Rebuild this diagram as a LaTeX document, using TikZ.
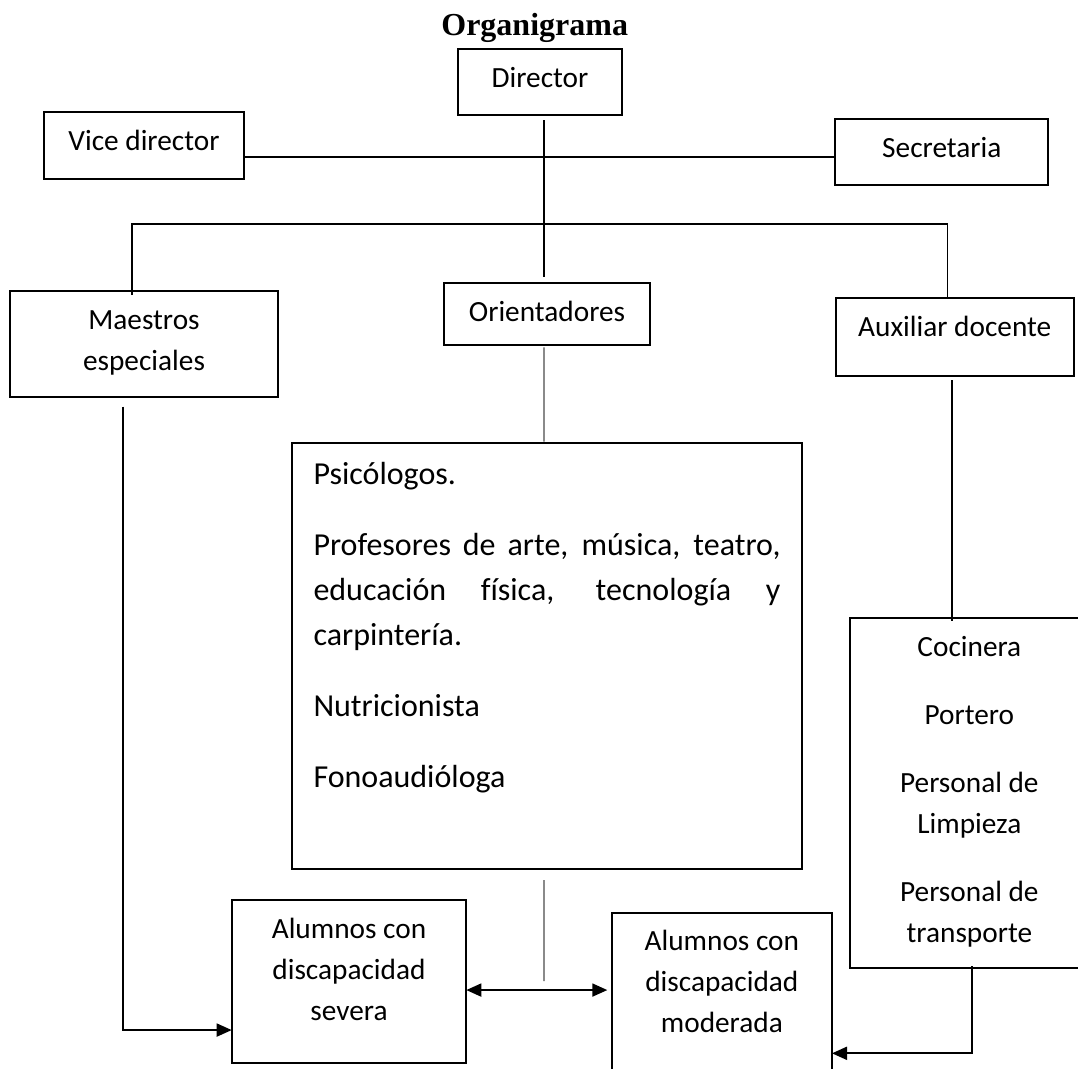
\documentclass[tikz,border=0pt]{standalone}
\usepackage{fontspec}
\setmainfont{Carlito}[Ligatures=NoCommon]
\newfontfamily\titlefont{Liberation Serif}
\usetikzlibrary{arrows.meta}

\begin{document}
\begin{tikzpicture}[x=1pt,y=-1pt, box/.style={draw,line width=1.9pt,inner sep=0pt,outer sep=0pt,anchor=north west,align=flush center,text height=38.5pt,font=\fontsize{29.3}{41}\selectfont}, link/.style={line width=1.9pt}, faint/.style={line width=1.3pt,black!70}, >={Triangle[length=15pt,width=13pt]}]
\useasboundingbox (0,0) rectangle (1078,1068);
\clip (0,0) rectangle (1078,1068);
\node[font=\titlefont\bfseries\fontsize{32}{38}\selectfont,anchor=base] (title) at (534.7,35) {Organigrama};
\node[box,text width=164.6pt,text depth=27.5pt] (dir) at (457.7,49) {Director};
\node[box,text width=200.6pt,text depth=27.9pt] (vice) at (43.7,112.3) {Vice director};
\node[box,text width=213pt,text depth=27.5pt] (sec) at (835.3,118.7) {Secretaria};
\node[box,text width=268.6pt,text height=38.3pt,text depth=67.7pt] (maes) at (9.7,290.7) {Maestros\\ especiales};
\node[box,text width=206.6pt,text height=38.3pt,text depth=23.7pt] (orient) at (443.7,282.7) {Orientadores};
\node[box,text width=237.8pt,text height=39pt,text depth=39pt] (aux) at (835.8,297.8) {Auxiliar docente};
\node[box,align=justify,inner xsep=21.8pt,text width=466.9pt,text height=41pt,text depth=385pt,font=\fontsize{32}{45}\selectfont] (prof) at (291.7,443.4) {\setlength{\parskip}{26pt}\hyphenpenalty=10000 Psicólogos.\par Profesores de arte, música, teatro,\linebreak educación física, tecnología y\linebreak carpintería.\par Nutricionista\par Fonoaudióloga};
\node[box,text width=239.3pt,text height=39pt,text depth=311pt] (serv) at (849.7,617.7) {Cocinera\\[27pt] Portero\\[27pt] Personal de\\ Limpieza\\[27pt] Personal de\\ transporte};
\node[box,text width=234.6pt,text height=38.3pt,text depth=124.4pt] (sev) at (231.7,900) {Alumnos con\\ discapacidad\\ severa};
\node[box,text width=220.3pt,text height=37.3pt,text depth=132.7pt] (mod) at (611.7,912.7) {Alumnos con\\ discapacidad\\ moderada};
% lines of the chart
\coordinate (hub) at (544.3,157);
\coordinate (bar) at (544.3,224);
\coordinate (gap) at (544,981);
\draw[link] ([xshift=4.3pt,yshift=-5pt]dir.south) -- ([xshift=-2.7pt,yshift=6pt]orient.north);
\draw[link] (vice.east |- hub) -- (sec.west |- hub);
\draw[link] ([xshift=-12pt,yshift=-4.3pt]maes.north) |- (bar) -| ([xshift=-7.2pt]aux.north);
\draw[faint] ([xshift=-3pt,yshift=-2.6pt]orient.south) -- ([xshift=-3pt,yshift=1.7pt]prof.north);
\draw[faint] ([xshift=-3pt,yshift=-10.6pt]prof.south) -- (gap);
\draw[link] ([xshift=-2.9pt,yshift=-4.2pt]aux.south) -- ([xshift=-2.9pt,yshift=-3.3pt]aux.south |- serv.north);
\draw[link,->] ([xshift=-20.7pt,yshift=-10pt]maes.south) |- ([yshift=-48.7pt]sev.west);
\draw[link,<->] ([yshift=-8.7pt]sev.east) -- ([xshift=-4.4pt,yshift=-8.7pt]sev.east -| mod.west);
\draw[link,->] ([xshift=2.7pt,yshift=1.7pt]serv.south) |- ([yshift=-55.6pt]mod.east);
\end{tikzpicture}
\end{document}
